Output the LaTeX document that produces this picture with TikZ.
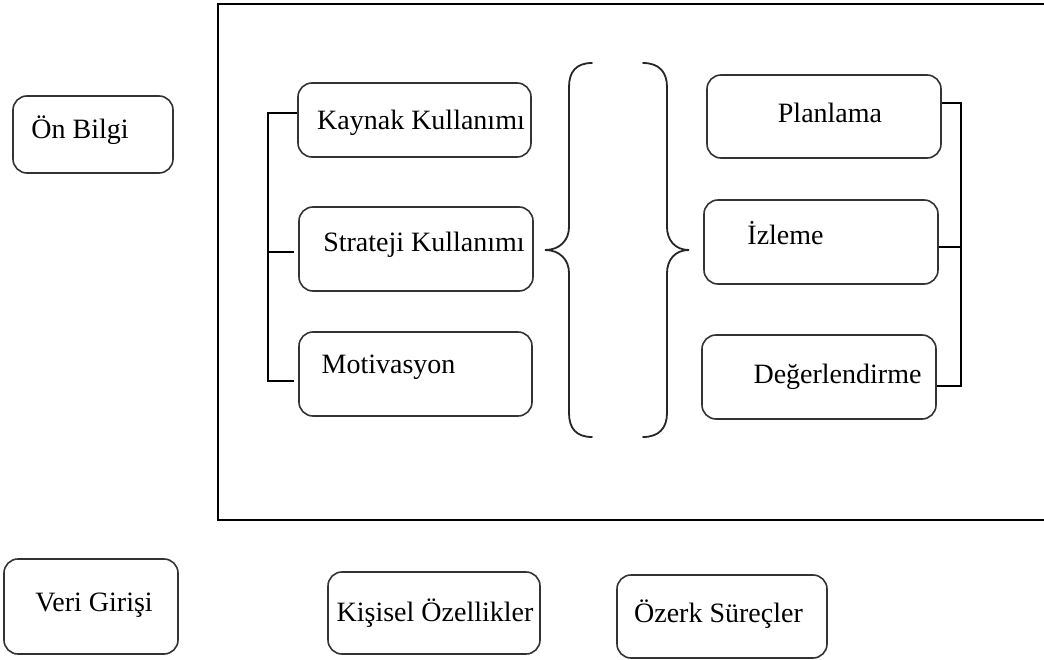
\documentclass[tikz,border=0pt]{standalone}
\usepackage{fontspec}
\setmainfont{Liberation Serif}
\usetikzlibrary{positioning}

\begin{document}
\begin{tikzpicture}[x=1pt, y=-1pt,
    box/.style={rectangle, draw=black!80, line width=1.6pt, rounded corners=14pt, inner sep=0pt},
    frame/.style={draw=black, line width=2.6pt},
    bracket/.style={draw=black, line width=2.4pt},
    curly/.style={draw=black!85, line width=1.8pt, line cap=round},
    lbl/.style={font=\fontsize{28}{32}\selectfont, text=black}
]
    \clip (0,0) rectangle (1044,660);
    \useasboundingbox (0,0) rectangle (1044,660);

    % Outer frame (runs off the right edge)
    \draw[frame] (218,4) rectangle (1080,520);

    % Left column
    \node[box, minimum width=160pt, minimum height=77pt, label={[lbl, xshift=-13pt, yshift=4.5pt]center:Ön Bilgi}] (onbilgi) at (93,134.5) {};
    \node[box, minimum width=174pt, minimum height=95pt, label={[lbl, xshift=3pt, yshift=1.5pt]center:Veri Girişi}] (veri) at (91,606.5) {};

    % Inside the frame, left group
    \node[box, minimum width=233pt, minimum height=74pt, label={[lbl, xshift=6.5pt, yshift=-3pt]center:Kaynak Kullanımı}] (kaynak) at (414.5,120) {};
    \node[box, minimum width=234pt, minimum height=84pt, label={[lbl, xshift=8pt, yshift=4pt]center:Strateji Kullanımı}] (strateji) at (416,249) {};
    \node[box, minimum width=233pt, minimum height=84pt, label={[lbl, xshift=-27pt, yshift=7pt]center:Motivasyon}] (motiv) at (415.5,374) {};

    % Inside the frame, right group
    \node[box, minimum width=234pt, minimum height=83pt, label={[lbl, xshift=6pt, yshift=3.5pt]center:Planlama}] (plan) at (824,116.5) {};
    \node[box, minimum width=234pt, minimum height=84pt, label={[lbl, xshift=-35.5pt, yshift=9pt]center:İzleme}] (izleme) at (821,242) {};
    \node[box, minimum width=234pt, minimum height=84pt, label={[lbl, xshift=18.5pt]center:Değerlendirme}] (deger) at (819,377) {};

    % Bottom row
    \node[box, minimum width=212pt, minimum height=82pt, label={[lbl, xshift=1pt]center:Kişisel Özellikler}] (kisisel) at (434,613) {};
    \node[box, minimum width=210pt, minimum height=83pt, label={[lbl, xshift=-3.5pt, yshift=2.5pt]center:Özerk Süreçler}] (ozerk) at (722,616.5) {};

    % Brackets
    \draw[bracket] ([yshift=7pt]kaynak.west) -- ++(-29,0) |- ([xshift=-4pt,yshift=-7pt]motiv.west);
    \draw[bracket] ([xshift=-4pt,yshift=-3pt]strateji.west) -- ++(-26,0);
    \draw[bracket] ([yshift=13.5pt]plan.east) -- ++(19,0) |- ([yshift=-9pt]deger.east);
    \draw[bracket] ([yshift=-5pt]izleme.east) -- ++(22,0);

    % Curly braces
    \draw[curly] (592,63) .. controls (576,63) and (569,72) .. (569,87) -- (569,227)
        .. controls (569,240) and (560,250) .. (545,250)
        .. controls (560,250) and (569,260) .. (569,273) -- (569,413)
        .. controls (569,428) and (576,437) .. (592,437);
    \draw[curly] (643,63) .. controls (659,63) and (667,72) .. (667,87) -- (667,227)
        .. controls (667,240) and (675,250) .. (689,250)
        .. controls (675,250) and (667,260) .. (667,273) -- (667,413)
        .. controls (667,428) and (659,437) .. (643,437);
\end{tikzpicture}
\end{document}
